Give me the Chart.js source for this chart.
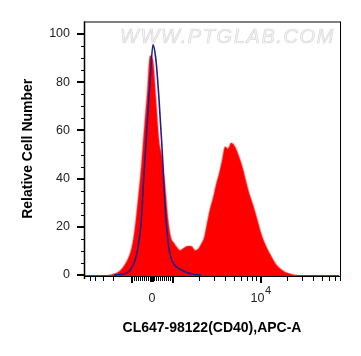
<!DOCTYPE html>
<html><head><meta charset="utf-8">
<script src="https://cdn.jsdelivr.net/npm/chart.js@4/dist/chart.umd.min.js"></script>
<style>html,body{margin:0;padding:0;background:#fff;}canvas{display:block;}</style>
</head><body>
<canvas id="c" width="361" height="356"></canvas>
<script>
// ---------- data ----------
// histogram bins, in display channels (0..255)
const binChannels = [0,3,6,9,12,15,18,21,24,27,30,33,36,39,42,45,48,51,54,57,60,63,66,69,72,75,78,81,84,87,90,93,96,99,102,105,108,111,114,117,120,123,126,129,132,135,138,141,144,147,150,153,156,159,162,165,168,171,174,177,180,183,186,189,192,195,198,201,204,207,210,213,216,219,222,225,228,231,234,237,240,243,246,249,252,255];
// CL647-98122 (CD40) stained sample, red filled histogram
const sampleCounts = [0,0,0,0,0,0,0,0,0,0.1,0.5,1.0,1.8,3.2,5.2,7.8,12,20,31.5,44,60,75,91,89,73,56,49,37.8,23.5,15.5,13.3,11.5,10.3,11,11.8,12,11.8,10.3,10.8,12.8,15.5,21.5,27.5,32,37.5,42,47.5,53.2,52.5,54.8,54,51.5,48,44,39,34.2,30.5,26.5,22,17.5,14,11.2,8.8,6.5,4.5,3.1,2.1,1.3,0.8,0.4,0.1,0,0,0,0,0,0,0,0,0,0,0,0,0,0,0];
// isotype control, blue outline
const controlCounts = [0,0,0,0,0,0,0,0,0,0,0,0.1,0.2,0.4,0.8,1.5,3.2,6.0,11.5,21,42,62,80,95.5,89,73,53,29,14,7,4.5,3.2,2.4,1.8,1.2,0.8,0.5,0.2,0.1,0,0,0,0,0,0,0,0,0,0,0,0,0,0,0,0,0,0,0,0,0,0,0,0,0,0,0,0,0,0,0,0,0,0,0,0,0,0,0,0,0,0,0,0,0,0,0];
// tick values
const yMajorTicks = [0,20,40,60,80,100];
const yMinorTicks = [5,10,15,25,30,35,45,50,55,65,70,75,85,90,95];
const xZeroTick = [0];
const xMajorTicks = [-1000,1000,10000];
const xMinorTicks = [-5000,-4000,-3000,-2000,-900,-800,-700,-600,-500,-400,-300,-200,-100,100,200,300,400,500,600,700,800,900,2000,3000,4000,5000,6000,7000,8000,9000,20000,30000,40000,50000,60000,70000,80000];
const xLabelValues = [0,10000];
const xLabelBase = ['0','10'];
const xLabelExp = ['','4'];
const xTitle = 'CL647-98122(CD40),APC-A';
const yTitle = 'Relative Cell Number';
const watermark = 'WWW.PTGLAB.COM';

// biexponential-like display transform: value -> display channel
function toChannel(v){
  const zero = 68, linW = 20.5, posDec = 88, negDec = 60;
  if (Math.abs(v) <= 1000) return zero + linW * v / 1000;
  if (v > 0) return zero + linW + posDec * Math.log10(v / 1000);
  return zero - linW - negDec * Math.log10(-v / 1000);
}

const FONT = '"Liberation Sans", Arial, sans-serif';
const zeroSeg = c => (c.p0.parsed.y === 0 && c.p1.parsed.y === 0) ? 'rgba(0,0,0,0)' : undefined;

const decor = {
  id: 'decor',
  beforeDatasetsDraw(chart){
    const {ctx, chartArea: a} = chart;
    ctx.save();
    ctx.font = 'italic 20px ' + FONT;
    ctx.letterSpacing = '1.6px';
    ctx.textBaseline = 'alphabetic';
    ctx.textAlign = 'left';
    ctx.fillStyle = '#f6f6f6';
    ctx.fillText(watermark, a.left + 36, a.top + 21);
    ctx.strokeStyle = 'rgba(175,175,175,0.45)';
    ctx.lineWidth = 0.7;
    ctx.strokeText(watermark, a.left + 36, a.top + 21);
    ctx.restore();
  },
  afterDraw(chart){
    const {ctx, chartArea: a, scales: {x, y}} = chart;
    ctx.save();
    ctx.strokeStyle = '#000';
    // frame
    ctx.lineWidth = 1;
    ctx.beginPath();
    ctx.moveTo(a.left, a.top + 0.5); ctx.lineTo(a.right + 0.5, a.top + 0.5);
    ctx.moveTo(a.right + 0.5, a.top); ctx.lineTo(a.right + 0.5, a.bottom + 1);
    ctx.moveTo(a.left, a.bottom + 0.5); ctx.lineTo(a.right + 1, a.bottom + 0.5);
    ctx.stroke();
    ctx.lineWidth = 1.5;
    ctx.beginPath();
    ctx.moveTo(a.left + 0.5, a.top); ctx.lineTo(a.left + 0.5, a.bottom + 3);
    ctx.stroke();
    // y ticks
    ctx.lineWidth = 1;
    ctx.beginPath();
    yMinorTicks.forEach(v => { const p = Math.round(y.getPixelForValue(v)) + 0.5; ctx.moveTo(a.left - 3, p); ctx.lineTo(a.left, p); });
    ctx.stroke();
    ctx.lineWidth = 2;
    ctx.beginPath();
    yMajorTicks.forEach(v => { const p = Math.round(y.getPixelForValue(v)); ctx.moveTo(a.left - 7, p); ctx.lineTo(a.left, p); });
    ctx.stroke();
    // x ticks
    const b = a.bottom + 1;
    ctx.lineWidth = 1;
    ctx.beginPath();
    xMinorTicks.forEach(v => { const p = Math.round(x.getPixelForValue(toChannel(v))) + 0.5; ctx.moveTo(p, b); ctx.lineTo(p, b + 4); });
    ctx.stroke();
    ctx.lineWidth = 2;
    ctx.beginPath();
    xMajorTicks.forEach(v => { const p = Math.round(x.getPixelForValue(toChannel(v))); ctx.moveTo(p, b); ctx.lineTo(p, b + 6); });
    ctx.stroke();
    ctx.lineWidth = 4;
    ctx.beginPath();
    xZeroTick.forEach(v => { const p = Math.round(x.getPixelForValue(toChannel(v))); ctx.moveTo(p, b); ctx.lineTo(p, b + 5); });
    ctx.stroke();
    // x labels
    ctx.fillStyle = '#222';
    ctx.textBaseline = 'alphabetic';
    ctx.textAlign = 'left';
    xLabelValues.forEach((v, i) => {
      const p = x.getPixelForValue(toChannel(v));
      ctx.font = '12.5px ' + FONT;
      const wb = ctx.measureText(xLabelBase[i]).width;
      ctx.font = '11px ' + FONT;
      const we = xLabelExp[i] ? ctx.measureText(xLabelExp[i]).width : 0;
      const x0 = p - (wb + we) / 2;
      ctx.font = '12.5px ' + FONT;
      ctx.fillText(xLabelBase[i], x0, a.bottom + 26);
      if (xLabelExp[i]) { ctx.font = '11px ' + FONT; ctx.fillText(xLabelExp[i], x0 + wb + 0.5, a.bottom + 17.5); }
    });
    ctx.restore();
  }
};

new Chart(document.getElementById('c'), {
  type: 'line',
  data: {
    datasets: [
      {
        label: 'Isotype control',
        data: binChannels.map((c, i) => ({x: c, y: controlCounts[i]})),
        borderColor: '#231d8a', borderWidth: 1.6, pointRadius: 0, fill: false,
        cubicInterpolationMode: 'monotone', order: 0,
        segment: {borderColor: zeroSeg}
      },
      {
        label: 'CL647-98122 (CD40)',
        data: binChannels.map((c, i) => ({x: c, y: sampleCounts[i]})),
        backgroundColor: '#ff0000', borderColor: 'rgba(255,70,70,0.45)', borderWidth: 1.5,
        pointRadius: 0, fill: 'start', cubicInterpolationMode: 'monotone', order: 1,
        segment: {borderColor: zeroSeg}
      }
    ]
  },
  options: {
    responsive: false, animation: false, devicePixelRatio: 1,
    layout: {padding: {top: 20, right: 21, left: 0, bottom: 0}},
    plugins: {legend: {display: false}, tooltip: {enabled: false}},
    scales: {
      x: {
        type: 'linear', min: 0, max: 256,
        grid: {display: false, drawTicks: false}, border: {display: false},
        ticks: {display: false},
        afterFit(s){ s.height = 80; },
        title: {display: true, text: xTitle, color: '#000', font: {family: FONT, size: 14, weight: 'bold'}, padding: {top: 0, bottom: 19.6}}
      },
      y: {
        type: 'linear', min: -0.4, max: 105.2,
        afterBuildTicks(s){ s.ticks = yMajorTicks.map(v => ({value: v})); },
        grid: {display: false, drawTicks: false}, border: {display: false},
        ticks: {padding: 14, color: '#222', font: {family: FONT, size: 12.5}},
        afterFit(s){ s.width = 84; },
        title: {display: true, text: yTitle, color: '#000', font: {family: FONT, size: 14, weight: 'bold'}, padding: {top: 20, bottom: 0}}
      }
    }
  },
  plugins: [decor]
});
</script>
</body></html>
